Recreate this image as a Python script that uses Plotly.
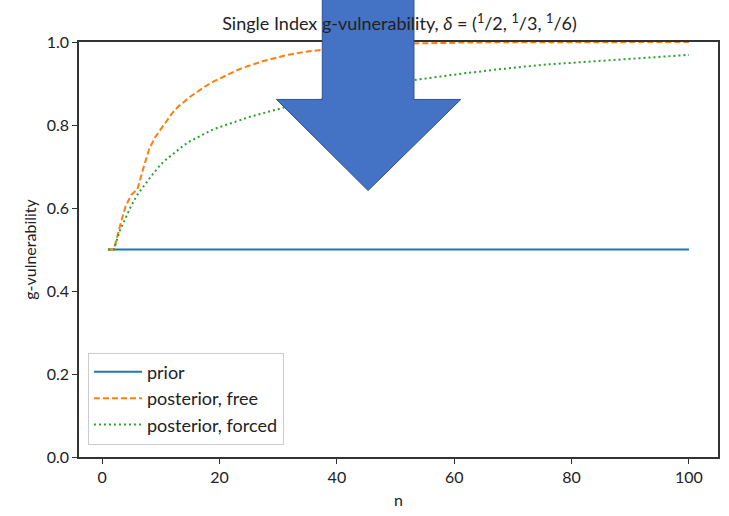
import plotly.graph_objects as go

n_values = list(range(1, 101))

prior = [0.5] * 100

posterior_free = [
    0.500, 0.500, 0.555, 0.605, 0.632, 0.645, 0.695, 0.742, 0.770, 0.790,
    0.813, 0.830, 0.845, 0.857, 0.868, 0.878, 0.888, 0.897, 0.905, 0.912,
    0.919, 0.926, 0.932, 0.938, 0.943, 0.948, 0.952, 0.956, 0.960, 0.964,
    0.967, 0.970, 0.973, 0.975, 0.977, 0.979, 0.981, 0.983, 0.984, 0.986,
    0.987, 0.988, 0.989, 0.990, 0.991, 0.992, 0.993, 0.993, 0.994, 0.995,
    0.995, 0.996, 0.996, 0.997, 0.997, 0.997, 0.998, 0.998, 0.998, 0.998,
    0.999, 0.999, 0.999, 0.999, 0.999, 0.999, 0.999, 0.999, 0.999, 0.999,
    0.999, 0.999, 0.999, 1.000, 1.000, 1.000, 1.000, 1.000, 1.000, 1.000,
    1.000, 1.000, 1.000, 1.000, 1.000, 1.000, 1.000, 1.000, 1.000, 1.000,
    1.000, 1.000, 1.000, 1.000, 1.000, 1.000, 1.000, 1.000, 1.000, 1.000,
]

posterior_forced = [
    0.500, 0.500, 0.545, 0.578, 0.607, 0.632, 0.652, 0.670, 0.688, 0.705,
    0.718, 0.730, 0.742, 0.752, 0.761, 0.769, 0.776, 0.783, 0.790, 0.795,
    0.800, 0.805, 0.810, 0.815, 0.819, 0.823, 0.827, 0.831, 0.835, 0.839,
    0.842, 0.846, 0.849, 0.852, 0.856, 0.859, 0.862, 0.865, 0.868, 0.871,
    0.874, 0.877, 0.880, 0.883, 0.886, 0.889, 0.892, 0.895, 0.898, 0.901,
    0.903, 0.906, 0.908, 0.910, 0.912, 0.914, 0.916, 0.918, 0.920, 0.921,
    0.923, 0.925, 0.927, 0.928, 0.930, 0.932, 0.933, 0.935, 0.936, 0.938,
    0.939, 0.941, 0.942, 0.944, 0.945, 0.946, 0.947, 0.948, 0.949, 0.950,
    0.951, 0.952, 0.953, 0.954, 0.955, 0.956, 0.957, 0.958, 0.959, 0.960,
    0.961, 0.962, 0.963, 0.964, 0.964, 0.965, 0.966, 0.967, 0.968, 0.969,
]

x_ticks = [0, 20, 40, 60, 80, 100]
y_ticks = [0.0, 0.2, 0.4, 0.6, 0.8, 1.0]
y_tick_labels = ["0.0", "0.2", "0.4", "0.6", "0.8", "1.0"]

FONT = "Lato"

fig = go.Figure()
fig.add_trace(go.Scatter(x=n_values, y=prior, mode="lines", name="prior",
                         line=dict(color="#1f77b4", width=2)))
fig.add_trace(go.Scatter(x=n_values, y=posterior_free, mode="lines", name="posterior, free",
                         line=dict(color="#ff7f0e", width=2, dash="6px,3px")))
fig.add_trace(go.Scatter(x=n_values, y=posterior_forced, mode="lines", name="posterior, forced",
                         line=dict(color="#2ca02c", width=2, dash="2px,3px")))

# plot area in pixels: left 79, right 720, top 42, bottom 461
L, R, T, B = 79, 720, 42, 461
def px(xp):
    return (xp - L) / (R - L)
def py(yp):
    return (B - yp) / (B - T)

arrow_pts = [(323, -2), (415, -2), (415, 100), (462, 100), (369, 192), (277, 100), (323, 100)]
path = "M " + " L ".join(f"{px(a):.4f},{py(b):.4f}" for a, b in arrow_pts) + " Z"

fig.update_layout(
    width=729, height=516,
    margin=dict(l=L, r=729 - R, t=T, b=516 - B),
    paper_bgcolor="white", plot_bgcolor="white",
    font=dict(family=FONT, size=16, color="#222"),
    title=dict(text="Single Index g-vulnerability, <i>δ</i> = (<sup>1</sup>/2, <sup>1</sup>/3, <sup>1</sup>/6)",
               x=(L + R) / 2 / 729, xanchor="center", y=1 - 24 / 516, yanchor="middle",
               font=dict(size=18, family=FONT, color="#222")),
    xaxis=dict(range=[-3.95, 104.95], tickvals=x_ticks, ticks="outside", ticklen=5,
               tickcolor="#333", showline=True, linecolor="#333", linewidth=1.5, mirror=True,
               showgrid=False, zeroline=False, tickfont=dict(size=16),
               title=dict(text="n", font=dict(size=16), standoff=10)),
    yaxis=dict(range=[0, 1], tickvals=y_ticks, ticktext=y_tick_labels, ticks="outside", ticklen=5,
               tickcolor="#333", showline=True, linecolor="#333", linewidth=1.5, mirror=True,
               showgrid=False, zeroline=False, tickfont=dict(size=16),
               title=dict(text="g-vulnerability", font=dict(size=16), standoff=6)),
    legend=dict(x=0.014, y=0.03, xanchor="left", yanchor="bottom",
                bgcolor="rgba(255,255,255,0.85)", bordercolor="#ccc", borderwidth=1,
                font=dict(size=18, family=FONT), tracegroupgap=0, itemwidth=48),
    shapes=[dict(type="path", path=path, xref="paper", yref="paper",
                 fillcolor="#4472C4", line=dict(color="#2F528F", width=1), layer="above")],
)

fig.write_html("out.html")
